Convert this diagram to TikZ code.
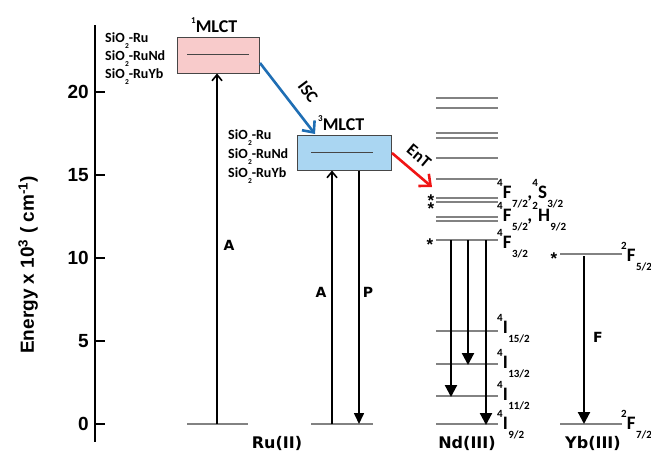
\documentclass[tikz,border=0pt]{standalone}
\usepackage{fontspec}
\setmainfont{Carlito}
\newfontfamily\arialf{Liberation Sans}
\newfontfamily\verdf{DejaVu Sans}
\usetikzlibrary{arrows.meta}
\definecolor{mlctpink}{RGB}{248,203,203}
\definecolor{mlctblue}{RGB}{170,214,242}
\definecolor{boxgray}{RGB}{70,70,70}
\definecolor{iscblue}{RGB}{31,110,180}
\definecolor{entred}{RGB}{240,20,20}
\definecolor{levelgray}{RGB}{130,130,130}
\newcommand\lvtxt[3]{\raisebox{.6em}{\fontsize{11}{11}\selectfont #1}\kern.2pt#2\kern.3pt\raisebox{-.5em}{\fontsize{11}{11}\selectfont #3}}
\newcommand\siolab[1]{SiO\kern.3pt\raisebox{-.45em}{\fontsize{7.5}{7.5}\selectfont 2}-#1}
\begin{document}
\begin{tikzpicture}[x=1pt,y=-1pt,
  lvl/.style={draw=levelgray, line width=1.1pt},
  lvlab/.style={anchor=base west, inner sep=0pt, font=\bfseries\fontsize{19}{19}\selectfont},
  sio/.style={anchor=base west, inner sep=0pt, font=\bfseries\fontsize{14}{14}\selectfont},
  ticklab/.style={anchor=east, inner sep=0pt, font=\arialf\bfseries\fontsize{19}{19}\selectfont},
  mlctlab/.style={anchor=base west, inner sep=0pt, font=\bfseries\fontsize{18}{18}\selectfont},
  translab/.style={inner sep=0pt, font=\verdf\bfseries\fontsize{14}{14}\selectfont},
  ionlab/.style={inner sep=0pt, font=\verdf\bfseries\fontsize{16}{16}\selectfont},
  steplab/.style={inner sep=0pt, font=\bfseries\fontsize{17}{17}\selectfont},
  starlab/.style={anchor=base, inner sep=0pt, font=\arialf\bfseries\fontsize{17}{17}\selectfont},
  absorb/.style={line width=1.6pt, -{Straight Barb[length=6pt,width=10pt]}},
  emit/.style={line width=1.6pt, -{Triangle[length=11pt,width=10pt]}},
  ndemit/.style={line width=2.2pt, -{Triangle[length=12pt,width=12pt]}},
  transfer/.style={line width=2.6pt, -{Straight Barb[length=9pt,width=16pt]}},
  mlctbox/.style={draw=boxgray, line width=1pt, inner sep=0pt}
]
\useasboundingbox (0,0) rectangle (651,455);

% axis
\coordinate (axtop) at (95,25);
\coordinate (axbot) at (95,442);
\draw[line width=1.8pt] (axtop) -- (axbot);
\foreach \v/\yy in {0/424,5/341,10/258,15/175,20/92}{
  \coordinate (tk\v) at (95,\yy);
  \draw[line width=1.3pt] (tk\v) -- ++(10,0);
  \node[ticklab] (tl\v) at (89,\yy) {\v};
}
\node[rotate=90, anchor=base, inner sep=0pt, font=\arialf\bfseries\fontsize{19}{19}\selectfont]
  (ylab) at (34,265) {Energy x 10\textsuperscript{3} ( cm\textsuperscript{-1})};

% 1MLCT
\node[mlctbox, fill=mlctpink, minimum width=82pt, minimum height=36pt] (s1) at (218,55) {};
\coordinate (s1l) at (187,54);
\coordinate (s1r) at (249,54);
\draw[draw=boxgray, line width=0.8pt] (s1l) -- (s1r);
\node[mlctlab] (s1lab) at (191,32) {\raisebox{.5em}{\fontsize{9}{9}\selectfont 1}MLCT};
\node[sio] (sa1) at (105,42) {\siolab{Ru}};
\node[sio] (sa2) at (105,60) {\siolab{RuNd}};
\node[sio] (sa3) at (105,78) {\siolab{RuYb}};

% 3MLCT
\node[mlctbox, fill=mlctblue, minimum width=94pt, minimum height=35pt] (t1) at (344,152.5) {};
\coordinate (t1l) at (311,152);
\coordinate (t1r) at (373,152);
\draw[draw=boxgray, line width=0.8pt] (t1l) -- (t1r);
\node[mlctlab] (t1lab) at (318,130) {\raisebox{.5em}{\fontsize{9}{9}\selectfont 3}MLCT};
\node[sio] (sb1) at (228,139) {\siolab{Ru}};
\node[sio] (sb2) at (228,158) {\siolab{RuNd}};
\node[sio] (sb3) at (228,177) {\siolab{RuYb}};

% Ru ground states
\coordinate (g1l) at (187,424); \coordinate (g1r) at (248,424);
\coordinate (g2l) at (311,424); \coordinate (g2r) at (373,424);
\draw[lvl] (g1l) -- (g1r);
\draw[lvl] (g2l) -- (g2r);
\coordinate (a1s) at (217,424);
\draw[absorb] (a1s) -- (a1s |- s1.south);
\coordinate (a2s) at (332,424);
\draw[absorb] (a2s) -- (a2s |- t1.south);
\coordinate (p1e) at (359,424);
\draw[emit] (p1e |- t1.south) -- (p1e);
\node[translab] (la1) at (229,245) {A};
\node[translab] (la2) at (321,292) {A};
\node[translab] (lp) at (368,292) {P};
\node[ionlab] (ru) at (277,443) {Ru(II)};

% ISC and EnT
\coordinate (iscs) at (260,63);
\coordinate (isce) at (315,134);
\draw[transfer, draw=iscblue] (iscs) -- (isce);
\node[steplab, rotate=-53] (isc) at (308,92) {ISC};
\coordinate (ents) at (392,153);
\coordinate (ente) at (432,187);
\draw[transfer, draw=entred] (ents) -- (ente);
\node[steplab, rotate=-40] (ent) at (419,156) {EnT};

% Nd levels
\foreach \yy [count=\i] in {98,108,133,138,158,179,198,202,217,221,240,331,364,396,424}{
  \coordinate (ndl\i) at (436,\yy);
  \coordinate (ndr\i) at (498,\yy);
  \draw[lvl] (ndl\i) -- (ndr\i);
}
\node[starlab] (st1) at (431,206) {*};
\node[starlab] (st2) at (431,214) {*};
\node[starlab] (st3) at (430,250) {*};
\node[lvlab] (nf7) at (497,198) {\lvtxt{4}{F}{7/2}\kern-.5pt,\lvtxt{4}{S}{3/2}};
\node[lvlab] (nf5) at (497,221) {\lvtxt{4}{F}{5/2}\kern-.5pt,\lvtxt{2}{H}{9/2}};
\node[lvlab] (nf3) at (497,248) {\lvtxt{4}{F}{3/2}};
\node[lvlab] (ni15) at (497,333) {\lvtxt{4}{I}{15/2}};
\node[lvlab] (ni13) at (497,368) {\lvtxt{4}{I}{13/2}};
\node[lvlab] (ni11) at (497,400) {\lvtxt{4}{I}{11/2}};
\node[lvlab] (ni9) at (497,429) {\lvtxt{4}{I}{9/2}};
\coordinate (n1s) at (451,240); \coordinate (n1e) at (451,397);
\coordinate (n2s) at (468,240); \coordinate (n2e) at (468,365);
\coordinate (n3s) at (486,240); \coordinate (n3e) at (486,425);
\draw[ndemit] (n1s) -- (n1e);
\draw[ndemit] (n2s) -- (n2e);
\draw[ndemit] (n3s) -- (n3e);
\node[ionlab] (nd) at (467,443) {Nd(III)};

% Yb
\coordinate (y5l) at (560,254); \coordinate (y5r) at (622,254);
\coordinate (y7l) at (560,424); \coordinate (y7r) at (622,424);
\draw[lvl] (y5l) -- (y5r);
\draw[lvl] (y7l) -- (y7r);
\node[starlab] (st4) at (554,264) {*};
\node[lvlab] (yf5) at (621,261) {\lvtxt{2}{F}{5/2}};
\node[lvlab] (yf7) at (621,429) {\lvtxt{2}{F}{7/2}};
\coordinate (ybs) at (584,256); \coordinate (ybe) at (584,424);
\draw[ndemit] (ybs) -- (ybe);
\node[translab] (lf) at (598,337) {F};
\node[ionlab] (yb) at (593,443) {Yb(III)};
\end{tikzpicture}
\end{document}
